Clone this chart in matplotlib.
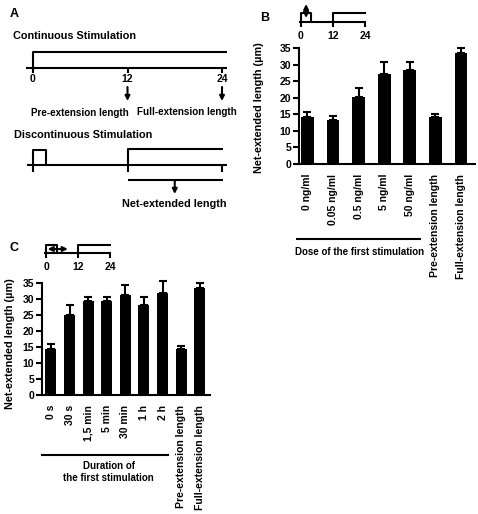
import numpy as np
import matplotlib
matplotlib.use("Agg")
import matplotlib.pyplot as plt
from matplotlib.transforms import blended_transform_factory

plt.rcParams['font.family'] = ['Liberation Sans', 'DejaVu Sans']
plt.rcParams['font.weight'] = 'bold'
plt.rcParams['axes.labelweight'] = 'bold'

# data
timeline_hours = [0, 12, 24]

dose_labels = ['0 ng/ml', '0.05 ng/ml', '0.5 ng/ml', '5 ng/ml', '50 ng/ml',
               'Pre-extension length', 'Full-extension length']
dose_means = [14.2, 13.2, 20.1, 27.1, 28.3, 14.2, 33.4]
dose_errs = [1.4, 1.2, 2.8, 3.8, 2.5, 0.9, 1.6]

duration_labels = ['0 s', '30 s', '1,5 min', '5 min', '30 min', '1 h', '2 h',
                   'Pre-extension length', 'Full-extension length']
duration_means = [14.3, 25.1, 29.5, 29.3, 31.2, 28.2, 31.9, 14.3, 33.4]
duration_errs = [1.6, 3.1, 1.1, 1.4, 3.1, 2.4, 3.6, 1.0, 1.6]

W, H = 478, 514
fig = plt.figure(figsize=(W / 100, H / 100), dpi=100)
LW = 1.5
FS = 7.8
GFS = 7


def px_axes(x0, y0, x1, y1):
    return fig.add_axes([x0 / W, 1 - y1 / H, (x1 - x0) / W, (y1 - y0) / H])


def timeline_axes(x_zero, x_end, y_top, y_bot):
    ax = px_axes(x_zero, y_top, x_end, y_bot)
    ax.set_xlim(0, 24)
    ax.set_ylim(y_bot, y_top)
    ax.axis('off')
    return ax


def line(ax, xs, ys):
    ax.plot(xs, ys, color='k', lw=LW, clip_on=False, solid_capstyle='butt')


def arrow(ax, start, end, style='-|>'):
    ax.annotate('', xy=end, xytext=start, annotation_clip=False,
                arrowprops=dict(arrowstyle=style, color='k', lw=1.5,
                                mutation_scale=7, shrinkA=0, shrinkB=0))


def small_timeline(ax, base, top, tick_end, label_y, pulse_end):
    line(ax, [-0.75, 24.4], [base, base])
    for t in timeline_hours:
        line(ax, [t, t], [base, tick_end])
        ax.text(t, label_y, str(t), ha='center', va='center', fontsize=7.5)
    line(ax, [0, 0, pulse_end, pulse_end], [base, top, top, base])
    line(ax, [12, 12, 24.4], [base, top, top])


# ---- panel A ----
fig.text(10 / W, 1 - 14 / H, 'A', fontsize=9, va='center')
axA = timeline_axes(33, 222, 0, 230)
axA.text(-2.5, 36, 'Continuous Stimulation', fontsize=FS, va='center')
line(axA, [-0.9, 24.6], [68, 68])
line(axA, [0, 0, 24.6], [73, 52, 52])
for t in timeline_hours:
    line(axA, [t, t], [68, 73])
    axA.text(t, 79, str(t), ha='center', va='center', fontsize=7.5)
arrow(axA, (12, 87), (12, 101))
arrow(axA, (24, 87), (24, 101))
axA.text(6.0, 113, 'Pre-extension length', ha='center', va='center', fontsize=7.1)
axA.text(19.6, 112, 'Full-extension length', ha='center', va='center', fontsize=7.1)

axA.text(-2.4, 135, 'Discontinuous Stimulation', fontsize=FS, va='center')
line(axA, [-0.75, 24.6], [165, 165])
for t in timeline_hours:
    line(axA, [t, t], [165, 172])
line(axA, [0, 0, 1.65, 1.65], [165, 150, 150, 165])
line(axA, [12, 12, 24.1], [165, 149, 149])
line(axA, [12, 24.1], [180, 180])
arrow(axA, (18, 180), (18, 194))
axA.text(18, 204, 'Net-extended length', ha='center', va='center', fontsize=FS)

# ---- panel B ----
fig.text(260 / W, 1 - 18 / H, 'B', fontsize=9, va='center')
axBt = timeline_axes(301, 365, 0, 45)
small_timeline(axBt, 22, 13, 27, 36, 3.75)
arrow(axBt, (1.9, 18), (1.9, 4), style='<|-|>')


def bar_panel(ax, labels, means, errs, xlim, width):
    x = np.arange(len(labels))
    ax.bar(x, means, width=width, color='k')
    eb = ax.errorbar(x, means, yerr=[np.zeros(len(errs)), errs], fmt='none',
                     ecolor='k', elinewidth=1.5, capsize=3, capthick=1.5)
    for art in eb.lines[1] + eb.lines[2]:
        art.set_clip_on(False)
    ax.set_xlim(*xlim)
    ax.set_ylim(0, 35)
    ax.set_yticks(range(0, 36, 5))
    ax.set_xticks(x)
    ax.set_xticklabels(labels, rotation=90, fontsize=7.5)
    ax.tick_params(axis='x', length=0, pad=7)
    ax.tick_params(axis='y', length=4, width=1.5, labelsize=7.5, pad=1.5)
    for s in ['top', 'right']:
        ax.spines[s].set_visible(False)
    for s in ['left', 'bottom']:
        ax.spines[s].set_linewidth(1.5)
    ax.set_ylabel('Net-extended length (µm)', fontsize=FS)
    return blended_transform_factory(ax.transData, ax.transAxes)


axB = px_axes(299, 48, 475, 164)
trB = bar_panel(axB, dose_labels, dose_means, dose_errs, (-0.33, 6.55), 0.5)
axB.yaxis.set_label_coords(-0.20, 0.49)
axB.plot([-0.39, 4.4], [-0.647, -0.647], color='k', lw=LW, transform=trB, clip_on=False)
axB.text(2.02, -0.759, 'Dose of the first stimulation', ha='center', va='center',
         fontsize=GFS, transform=trB)

# ---- panel C ----
fig.text(10 / W, 1 - 248 / H, 'C', fontsize=9, va='center')
axCt = timeline_axes(46, 110, 235, 275)
small_timeline(axCt, 253, 245, 258, 267, 4.1)
arrow(axCt, (0.6, 249), (8.2, 249), style='<|-|>')

axC = px_axes(42, 283, 210, 395)
trC = bar_panel(axC, duration_labels, duration_means, duration_errs, (-0.48, 8.55), 0.59)
axC.yaxis.set_label_coords(-0.16, 0.46)
axC.plot([-0.48, 6.3], [-0.536, -0.536], color='k', lw=LW, transform=trC, clip_on=False)
axC.text(3.1, -0.6875, 'Duration of\nthe first stimulation', ha='center', va='center',
         fontsize=GFS, transform=trC, linespacing=1.3)

fig.savefig('out.png', dpi=100)
